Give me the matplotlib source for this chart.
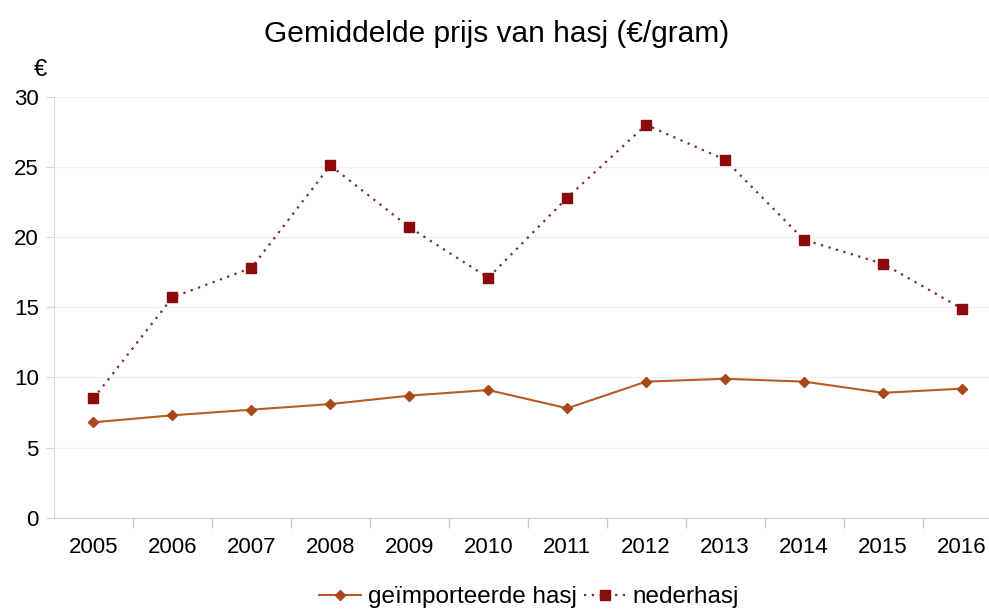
import matplotlib
matplotlib.use("Agg")
import matplotlib.pyplot as plt

plt.rcParams['font.family'] = ['Liberation Sans', 'DejaVu Sans']

years = ['2005', '2006', '2007', '2008', '2009', '2010', '2011', '2012',
         '2013', '2014', '2015', '2016']
imported = [6.8, 7.3, 7.7, 8.1, 8.7, 9.1, 7.8, 9.7, 9.9, 9.7, 8.9, 9.2]
nederhasj = [8.5, 15.7, 17.8, 25.1, 20.7, 17.1, 22.8, 28.0, 25.5, 19.8, 18.1, 14.9]

fig = plt.figure(figsize=(9.89, 6.12), dpi=100)
ax = fig.add_axes([0.0546, 0.154, 0.958, 0.688])

x = range(len(years))
ax.plot(x, imported, color='#b85a22', lw=1.5, marker='D', markersize=5,
        markerfacecolor='#a9461a', markeredgecolor='#a9461a',
        label='geïmporteerde hasj')
ax.plot(x, nederhasj, color='#7a2a3a', lw=1.6, ls=(0, (1, 2.5)), marker='s',
        markersize=7, markerfacecolor='#8b0a0a', markeredgecolor='#8b0a0a',
        label='nederhasj')

ax.set_xlim(-0.5, len(years) - 0.5)
ax.set_ylim(0, 30)
ax.set_yticks([0, 5, 10, 15, 20, 25, 30])
ax.set_xticks(list(x))
ax.set_xticklabels(years)
ax.set_xticks([i + 0.5 for i in range(len(years) - 1)], minor=True)
ax.tick_params(axis='x', which='major', length=0, pad=14, labelsize=16)
ax.tick_params(axis='x', which='minor', length=7, color='#c8c8c8', width=1)
ax.tick_params(axis='y', length=6, color='#d8d8d8', labelsize=16, pad=5)
ax.grid(axis='y', color='#f0f0f0', lw=1)
ax.set_axisbelow(True)
for s in ['top', 'right']:
    ax.spines[s].set_visible(False)
ax.spines['left'].set_color('#d8d8d8')
ax.spines['bottom'].set_color('#d0d0d0')

fig.text(0.502, 0.944, 'Gemiddelde prijs van hasj (€/gram)', ha='center',
         va='center', fontsize=21.5)
fig.text(0.041, 0.885, '€', ha='center', va='center', fontsize=17)

fig.legend(loc='center', bbox_to_anchor=(0.535, 0.024), ncol=2, frameon=False,
           fontsize=17.5, handlelength=1.7, handletextpad=0.3, columnspacing=0.3)

fig.savefig('out.png', dpi=100)
